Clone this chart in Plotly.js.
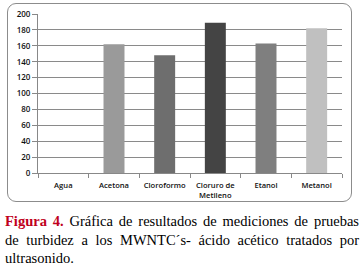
<!DOCTYPE html>
<html>
<head>
<meta charset="utf-8">
<script src="https://cdn.plot.ly/plotly-3.0.1.min.js"></script>
<style>
  html, body { margin: 0; padding: 0; background: #fff; }
  #wrap { position: relative; width: 360px; height: 271px; overflow: hidden; }
  #frame { position: absolute; left: 7px; top: 3px; width: 345px; height: 199px;
           border: 1px solid #8c8c8c; border-radius: 9px; box-sizing: border-box; }
  #chart { position: absolute; left: 0; top: 0; width: 360px; height: 271px; }
</style>
</head>
<body>
<div id="wrap">
  <div id="frame"></div>
  <div id="chart"></div>
</div>
<script>
const categories = ["Agua", "Acetona", "Cloroformo", "Cloruro de Metileno", "Etanol", "Metanol"];
const tickLabels = ["Agua", "Acetona", "Cloroformo", "Cloruro de<br>Metileno", "Etanol", "Metanol"];
const values = [0, 162, 148, 189, 163, 182];
const barColors = ["#9a9a9a", "#9a9a9a", "#6e6e6e", "#444444", "#7f7f7f", "#c0c0c0"];
const yTicks = [0, 20, 40, 60, 80, 100, 120, 140, 160, 180, 200];
const captionLines = [
  "<b><span style='color:#c0001c'>Figura 4.</span></b> Gráfica de resultados de mediciones de pruebas",
  "de turbidez a los MWNTC´s- ácido acético tratados por",
  "ultrasonido."
];

const trace = {
  type: "bar",
  x: categories,
  y: values,
  marker: { color: barColors, line: { width: 0 } },
  hoverinfo: "x+y"
};

const L = 37.5, R = 18, T = 14, B = 97.7, W = 360, H = 271;
const pw = W - L - R, ph = H - T - B;
const px2x = p => (p - L) / pw;
const px2y = p => (H - B - p) / ph;

const annotations = captionLines.map((t, i) => ({
  text: t,
  xref: "paper", yref: "paper",
  x: px2x(3), y: px2y(230.7 + i * 18.3),
  xanchor: "left", yanchor: "bottom",
  showarrow: false,
  align: "left",
  borderpad: 0,
  font: { family: "Liberation Serif, Times New Roman, serif", size: 14.5, color: "#000" }
}));

const layout = {
  width: W,
  height: H,
  margin: { l: L, r: R, t: T, b: B, pad: 0 },
  paper_bgcolor: "rgba(0,0,0,0)",
  plot_bgcolor: "rgba(0,0,0,0)",
  showlegend: false,
  bargap: 0.586,
  font: { family: "Open Sans, DejaVu Sans, sans-serif", size: 8, color: "#111" },
  annotations: annotations,
  xaxis: {
    type: "category",
    tickvals: categories,
    ticktext: tickLabels,
    tickangle: 0,
    showline: true,
    linecolor: "#888",
    linewidth: 1,
    ticks: "outside",
    tickson: "boundaries",
    ticklen: 4,
    tickcolor: "#888",
    ticklabelstandoff: 5,
    showgrid: false,
    zeroline: false,
    fixedrange: true,
    tickfont: { size: 7.6, color: "#111", weight: 600 }
  },
  yaxis: {
    range: [0, 200],
    tickvals: yTicks,
    showline: true,
    linecolor: "#888",
    linewidth: 1,
    ticks: "outside",
    ticklen: 5,
    tickcolor: "#888",
    showgrid: true,
    gridcolor: "#8a8a8a",
    gridwidth: 1,
    zeroline: false,
    fixedrange: true,
    tickfont: { size: 8, color: "#111", weight: 600 }
  }
};

Plotly.newPlot("chart", [trace], layout, { staticPlot: true, displayModeBar: false }).then(gd => {
  // justify the first two caption lines to the full caption width
  const target = 354;
  const texts = gd.querySelectorAll(".annotation-text");
  texts.forEach((el, i) => {
    if (i >= 2) return;
    const plain = captionLines[i].replace(/<[^>]+>/g, "");
    const spaces = (plain.match(/ /g) || []).length;
    const w = el.getComputedTextLength ? el.getComputedTextLength() : el.getBBox().width;
    if (spaces > 0 && w < target) {
      el.style.wordSpacing = ((target - w) / spaces) + "px";
    }
  });
});
</script>
</body>
</html>
